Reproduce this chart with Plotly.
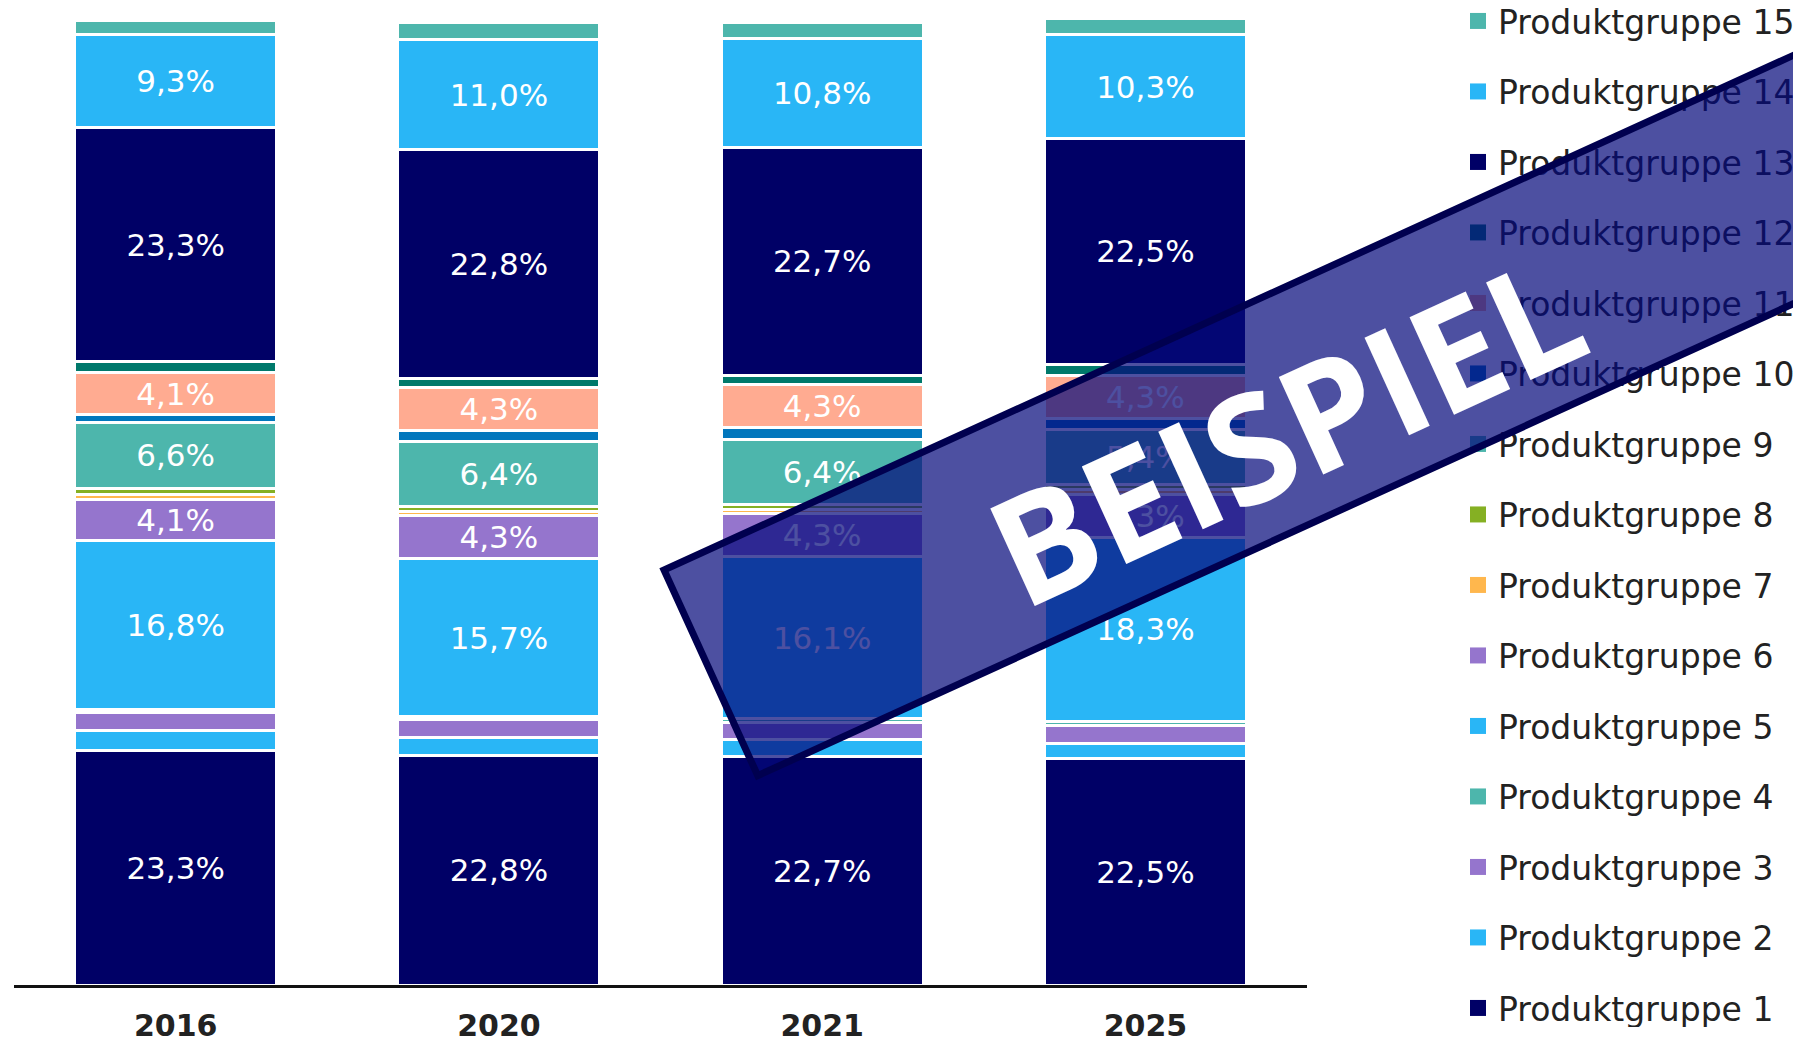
import plotly.graph_objects as go

# ---------------- data ----------------
categories = ["2016", "2020", "2021", "2025"]

series_names = [f"Produktgruppe {i}" for i in range(1, 16)]

p1 = [23.3, 22.8, 22.7, 22.5]
p2 = [2.0, 1.8, 1.7, 1.5]
p3 = [1.8, 1.8, 1.7, 1.8]
p4 = [0.3, 0.3, 0.4, 0.45]
p5 = [16.8, 15.7, 16.1, 18.3]
p6 = [4.1, 4.3, 4.3, 4.3]
p7 = [0.5, 0.4, 0.45, 0.5]
p8 = [0.6, 0.55, 0.5, 0.5]
p9 = [6.6, 6.4, 6.4, 5.4]
p10 = [0.8, 1.1, 1.2, 1.1]
p11 = [4.1, 4.3, 4.3, 4.3]
p12 = [1.1, 0.85, 0.9, 1.1]
p13 = [23.3, 22.8, 22.7, 22.5]
p14 = [9.3, 11.0, 10.8, 10.3]
p15 = [1.4, 1.7, 1.6, 1.6]

series_values = [p1, p2, p3, p4, p5, p6, p7, p8, p9, p10, p11, p12, p13, p14, p15]

colors = [
    "#000066",  # 1
    "#29B6F6",  # 2
    "#9575CD",  # 3
    "#4DB6AC",  # 4
    "#29B6F6",  # 5
    "#9575CD",  # 6
    "#FFB74D",  # 7
    "#85B023",  # 8
    "#4DB6AC",  # 9
    "#0277BD",  # 10
    "#FFAB91",  # 11
    "#00796B",  # 12
    "#000066",  # 13
    "#29B6F6",  # 14
    "#4DB6AC",  # 15
]

watermark_text = "BEISPIEL"

# ---------------- geometry (figure pixels; page = figure + 8 body margin) ----------------
W, H = 1793, 1034
ML, MR, MT, MB = 6, 494, 0, 57
PW = W - ML - MR
PH = H - MT - MB
Y_MAX = PH / 10.05


def px_to_paper(px, py):
    return (px - ML) / PW, (H - MB - py) / PH


def label(v):
    return (f"{v:.1f}".replace(".", ",") + "%") if v >= 3 else ""


fig = go.Figure()

for name, vals, col in zip(series_names, series_values, colors):
    fig.add_trace(go.Bar(
        x=categories, y=vals, name=name,
        marker=dict(color=col, line=dict(color="white", width=3)),
        text=[label(v) for v in vals],
        textposition="inside", insidetextanchor="middle", textangle=0,
        constraintext="none",
        textfont=dict(color="white", size=31, family="DejaVu Sans"),
        showlegend=False, hoverinfo="skip",
    ))

# legend entries (top: 15 ... bottom: 1)
for name, col in reversed(list(zip(series_names, colors))):
    fig.add_trace(go.Scatter(
        x=[None], y=[None], mode="markers", name=name, legendgroup=name,
        marker=dict(symbol="square", size=16, color=col),
        showlegend=True, hoverinfo="skip",
    ))

# watermark band
band_w, band_h, band_bw = 1600, 219, 7
bx, by = px_to_paper(1434.3, 331.5)
fig.add_annotation(
    xref="paper", yref="paper", x=bx, y=by, xanchor="center", yanchor="middle",
    text=" ", showarrow=False, width=band_w, height=band_h,
    bgcolor="rgba(4,8,122,0.71)", bordercolor="#00004F", borderwidth=band_bw,
    borderpad=0, textangle=-24.5,
)
tx, ty = px_to_paper(1277, 420)
fig.add_annotation(
    xref="paper", yref="paper", x=tx, y=ty, xanchor="center", yanchor="middle",
    text=watermark_text, showarrow=False, textangle=-24.5,
    font=dict(family="Open Sans", size=150, color="white", weight="bold"),
)

lx, ly = px_to_paper(1450, -15)
fig.update_layout(
    width=W, height=H,
    margin=dict(l=ML, r=MR, t=MT, b=MB, pad=0, autoexpand=False),
    paper_bgcolor="white", plot_bgcolor="white",
    barmode="stack", bargap=0.375,
    uniformtext=dict(minsize=31, mode="show"),
    font=dict(family="DejaVu Sans", color="#222222"),
    xaxis=dict(
        showline=True, linecolor="#111111", linewidth=3,
        ticks="", showgrid=False, zeroline=False, ticklabelstandoff=12,
        tickfont=dict(family="DejaVu Sans", size=30, color="#222222", weight="bold"),
    ),
    yaxis=dict(visible=False, range=[0, Y_MAX], showgrid=False, zeroline=False),
    legend=dict(
        x=lx, y=ly, xanchor="left", yanchor="top",
        traceorder="grouped", tracegroupgap=24.6, maxheight=1.0,
        font=dict(family="DejaVu Sans", size=33, color="#222222"),
        bgcolor="rgba(0,0,0,0)", borderwidth=0,
    ),
    showlegend=True,
)

fig.write_html("out.html")
